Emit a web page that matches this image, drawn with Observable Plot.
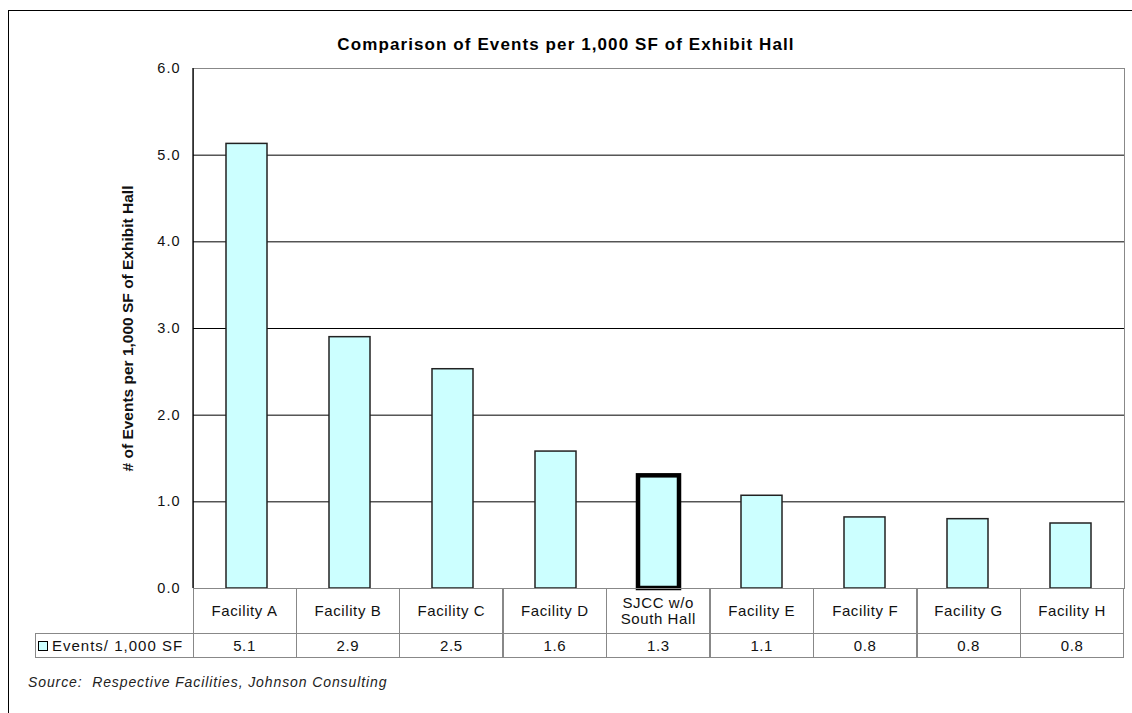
<!DOCTYPE html>
<html><head><meta charset="utf-8">
<script src="https://cdn.jsdelivr.net/npm/d3@7"></script>
<script src="https://cdn.jsdelivr.net/npm/@observablehq/plot@0.6"></script>
<style>
body{margin:0;background:#fff;font-family:Arial,"Liberation Sans",sans-serif;}
#page{position:relative;width:1132px;height:713px;overflow:hidden;background:#fff;}
#frame{position:absolute;left:8px;top:10px;width:1200px;height:800px;border-left:1.5px solid #000;border-top:1.5px solid #000;}
#title{position:absolute;top:35px;left:0;width:1132px;text-align:center;font-weight:bold;font-size:17px;letter-spacing:1.1px;color:#000;}
#chart{position:absolute;left:0;top:0;}
#source{position:absolute;left:28px;top:674px;font-style:italic;font-size:14px;color:#222;letter-spacing:0.9px;}
.cell{position:absolute;box-sizing:border-box;border:1px solid #888;display:flex;align-items:center;justify-content:center;text-align:center;font-size:15px;letter-spacing:0.6px;line-height:1.05;color:#111;white-space:pre-line;}
.swatch{display:inline-block;width:10px;height:10px;background:#ccffff;border:1px solid #000;margin-right:4px;box-sizing:border-box;}
svg g[aria-label="y-axis label"] text{font-weight:bold;font-size:15.5px;}
svg g[aria-label="y-axis tick label"] text{letter-spacing:1px;}
</style>
</head><body>
<div id="page">
  <div id="frame"></div>
  <div id="title">Comparison of Events per 1,000 SF of Exhibit Hall</div>
  <div id="chart"></div>
  <div id="tbl"></div>
  <div id="source">Source:&nbsp; Respective Facilities, Johnson Consulting</div>
</div>
<script>
const categories = ["Facility A","Facility B","Facility C","Facility D","SJCC w/o\nSouth Hall","Facility E","Facility F","Facility G","Facility H"];
const values = [5.13, 2.90, 2.53, 1.58, 1.30, 1.07, 0.82, 0.80, 0.75];
const tableLabels = ["5.1","2.9","2.5","1.6","1.3","1.1","0.8","0.8","0.8"];
const highlighted = "SJCC w/o\nSouth Hall";
const seriesName = "Events/ 1,000 SF";
const yTicks = [0, 1, 2, 3, 4, 5, 6];
const gridValues = [1, 2, 3, 4, 5];
const yLabel = "# of Events per 1,000 SF of Exhibit Hall";

const data = categories.map((c, i) => ({name: c, value: values[i], label: tableLabels[i]}));

const leftLine = (index, scales, vals, dims) => {
  const l = d3.create("svg:line")
    .attr("x1", dims.marginLeft).attr("x2", dims.marginLeft)
    .attr("y1", dims.marginTop).attr("y2", dims.height - dims.marginBottom)
    .attr("stroke", "#000").attr("stroke-width", 1.3);
  return l.node();
};

const plot = Plot.plot({
  width: 1132, height: 600,
  marginLeft: 193, marginRight: 8, marginTop: 68, marginBottom: 12,
  style: {fontFamily: "Arial, 'Liberation Sans', sans-serif", fontSize: "14px", color: "#111", background: "transparent", overflow: "visible"},
  x: {domain: categories, padding: 0, axis: null},
  y: {domain: [0, 6], axis: null},
  marks: [
    Plot.frame({stroke: "#888"}),
    Plot.ruleY(gridValues, {stroke: "#000", strokeWidth: 1}),
    Plot.axisY({ticks: yTicks, tickSize: 5, tickPadding: 8, tickFormat: d => d.toFixed(1),
      label: yLabel, labelAnchor: "center", labelOffset: 72, labelArrow: "none", fontSize: 14.5, stroke: null}),
    leftLine,
    Plot.barY(data.filter(d => d.name !== highlighted), {x: "name", y: "value", fill: "#ccffff", stroke: "#222", strokeWidth: 1.5, insetLeft: 31, insetRight: 31}),
    Plot.barY(data.filter(d => d.name === highlighted), {x: "name", y: "value", fill: "#ccffff", stroke: "#000", strokeWidth: 4.5, insetLeft: 31, insetRight: 31})
  ]
});
document.getElementById("chart").appendChild(plot);

// Data table under the chart, aligned with the plot's x scale
const xs = plot.scale("x");
const ys = plot.scale("y");
const bw = xs.bandwidth;
const scaleX = d3.scaleBand().domain(xs.domain).range(xs.range).paddingInner(0).paddingOuter(0);
const tbl = document.getElementById("tbl");
const topY = ys.apply(0);
const headerH = 45, valueH = 24;
data.forEach(d => {
  const x0 = scaleX(d.name);
  const h = document.createElement("div");
  h.className = "cell";
  h.style.left = (x0 - 0.5) + "px"; h.style.width = (bw + 1) + "px";
  h.style.top = topY + "px"; h.style.height = (headerH + 1) + "px";
  h.textContent = d.name;
  tbl.appendChild(h);
  const v = document.createElement("div");
  v.className = "cell";
  v.style.left = (x0 - 0.5) + "px"; v.style.width = (bw + 1) + "px";
  v.style.top = (topY + headerH) + "px"; v.style.height = (valueH + 1) + "px";
  v.textContent = d.label;
  tbl.appendChild(v);
});
const leg = document.createElement("div");
leg.className = "cell";
leg.style.left = "35px"; leg.style.width = (xs.range[0] - 35 + 0.5) + "px";
leg.style.top = (topY + headerH) + "px"; leg.style.height = (valueH + 1) + "px";
leg.style.justifyContent = "flex-start"; leg.style.paddingLeft = "2px"; leg.style.letterSpacing = "1px";
leg.innerHTML = '<span class="swatch"></span>';
leg.appendChild(document.createTextNode(seriesName));
tbl.appendChild(leg);
</script>
</body></html>
